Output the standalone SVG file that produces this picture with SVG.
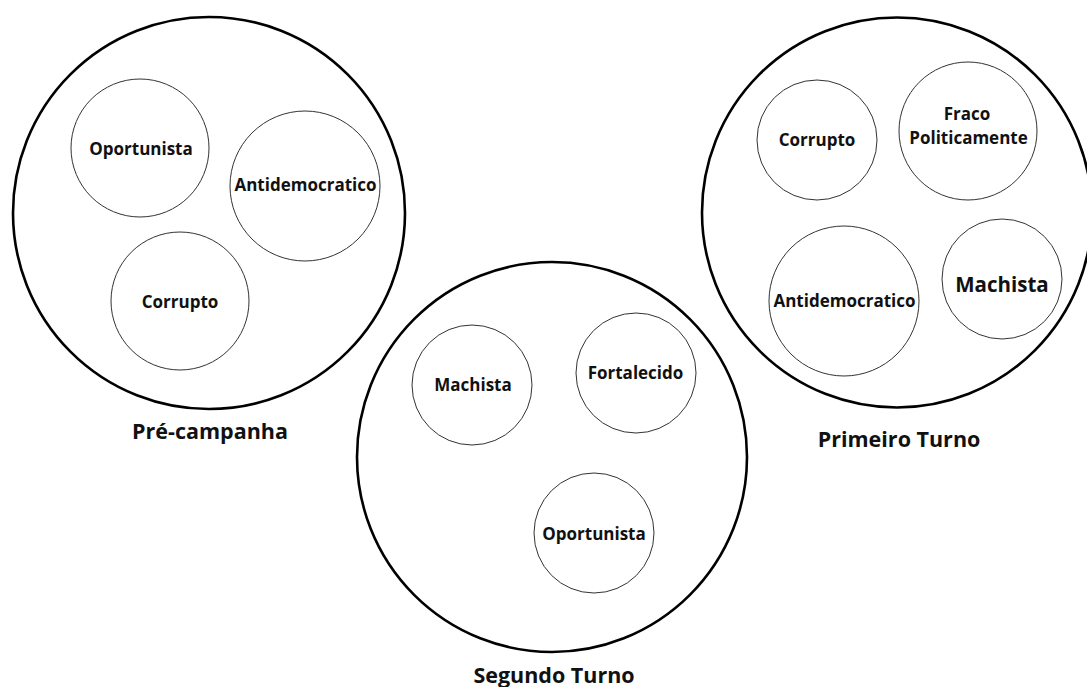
<svg xmlns="http://www.w3.org/2000/svg" width="1087" height="687" viewBox="0 0 1087 687">
<style>
.big{fill:none;stroke:#000;stroke-width:2.6}
.small{fill:none;stroke:#333;stroke-width:1}
text{font-family:"Open Sans","Noto Sans","DejaVu Sans",sans-serif;font-weight:700;fill:#111;text-anchor:middle}
.t{font-size:17px}
.lbl{font-size:21.5px}
.tb{font-size:20.5px}
</style>
<rect width="1087" height="687" fill="#fff"/>
<g id="pre-campanha">
<circle class="big" cx="209" cy="213" r="196"/>
<text class="lbl" x="210" y="439">Pré-campanha</text>
<g id="pc-oportunista"><circle class="small" cx="140" cy="148" r="69"/><text class="t" x="141" y="155">Oportunista</text></g>
<g id="pc-antidemocratico"><circle class="small" cx="305" cy="186" r="75"/><text class="t" x="305.5" y="191">Antidemocratico</text></g>
<g id="pc-corrupto"><circle class="small" cx="180" cy="301" r="69"/><text class="t" x="180" y="308">Corrupto</text></g>
</g>
<g id="segundo-turno">
<circle class="big" cx="552" cy="457" r="195"/>
<text class="lbl" x="554" y="683">Segundo Turno</text>
<g id="st-machista"><circle class="small" cx="472" cy="385" r="60"/><text class="t" x="473" y="391">Machista</text></g>
<g id="st-fortalecido"><circle class="small" cx="636" cy="373" r="60"/><text class="t" x="635.5" y="379">Fortalecido</text></g>
<g id="st-oportunista"><circle class="small" cx="594" cy="533" r="60"/><text class="t" x="594" y="540">Oportunista</text></g>
</g>
<g id="primeiro-turno">
<circle class="big" cx="897" cy="212.5" r="195"/>
<text class="lbl" x="899" y="447">Primeiro Turno</text>
<g id="pt-corrupto"><circle class="small" cx="817" cy="140" r="60"/><text class="t" x="817" y="146">Corrupto</text></g>
<g id="pt-fraco"><circle class="small" cx="968" cy="131" r="69"/><text class="t" x="967" y="120">Fraco</text><text class="t" x="968.5" y="144">Politicamente</text></g>
<g id="pt-antidemocratico"><circle class="small" cx="844" cy="301" r="75"/><text class="t" x="844.5" y="307">Antidemocratico</text></g>
<g id="pt-machista"><circle class="small" cx="1002" cy="279" r="60"/><text class="tb" x="1002" y="292">Machista</text></g>
</g>
<g id="connectors"/>
</svg>
